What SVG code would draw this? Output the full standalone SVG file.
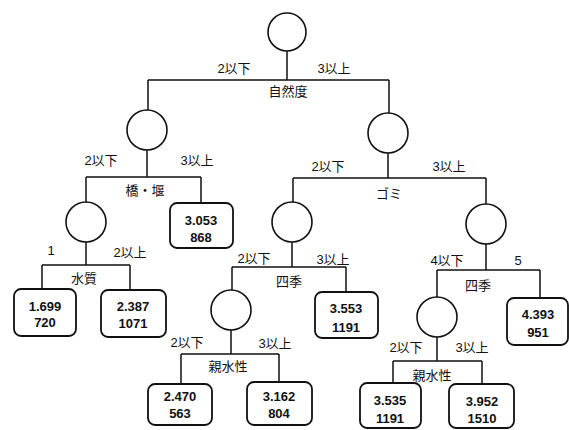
<svg xmlns="http://www.w3.org/2000/svg" width="569" height="430" viewBox="0 0 569 430">
<style>
.c{fill:#fff;stroke:#111;stroke-width:1.6}
.b{fill:#fff;stroke:#111;stroke-width:1.8}
.l{fill:none;stroke:#111;stroke-width:1.5}
text{font-family:"Liberation Sans","Noto Sans CJK JP",sans-serif;font-size:13px;fill:#111;text-anchor:middle;dominant-baseline:central}
.n{font-weight:bold;font-size:13px}
</style>
<rect width="569" height="430" fill="#fff"/>
<g id="connectors">
<path class="l" d="M287 51V80M148 80H389M148 80V110M389 80V113"/>
<path class="l" d="M147 150V177M86 177H201M86 177V202M201 177V203"/>
<path class="l" d="M388 153V178M293 178H486M293 178V202M486 178V204"/>
<path class="l" d="M86 242V265M42 265H130M42 265V289M130 265V290"/>
<path class="l" d="M292 242V267M232 267H346M232 267V290M346 267V292"/>
<path class="l" d="M231 330V354M181 354H279M181 354V384M279 354V382"/>
<path class="l" d="M486 244V270M437 270H540M437 270V297M540 270V298"/>
<path class="l" d="M437 337V361M393 361H482M393 361V383M482 361V384"/>
</g>
<g id="labels">
<text x="234" y="68">2以下</text><text x="334" y="68">3以上</text><text x="288" y="91">自然度</text>
<text x="101" y="160">2以下</text><text x="197" y="160">3以上</text><text x="145" y="190">橋・堰</text>
<text x="328" y="166">2以下</text><text x="449" y="166">3以上</text><text x="389" y="193">ゴミ</text>
<text x="51" y="250">1</text><text x="130" y="252">2以上</text><text x="84" y="278">水質</text>
<text x="254" y="258">2以下</text><text x="333" y="259">3以上</text><text x="289" y="281">四季</text>
<text x="187" y="342">2以下</text><text x="275" y="343">3以上</text><text x="228" y="366">親水性</text>
<text x="447" y="260">4以下</text><text x="518" y="260">5</text><text x="478" y="285">四季</text>
<text x="406" y="347">2以下</text><text x="472" y="347">3以上</text><text x="432" y="375">親水性</text>
</g>
<g id="n0"><circle class="c" cx="287" cy="32" r="19"/></g>
<g id="n1"><circle class="c" cx="147" cy="130" r="20"/></g>
<g id="n2"><circle class="c" cx="388" cy="133" r="20"/></g>
<g id="n3"><circle class="c" cx="86" cy="222" r="20"/></g>
<g id="n4"><rect class="b" x="170" y="203" width="63" height="45" rx="7"/><text class="n" x="201" y="220">3.053</text><text class="n" x="201" y="237">868</text></g>
<g id="n5"><circle class="c" cx="292" cy="222" r="20"/></g>
<g id="n6"><circle class="c" cx="486" cy="224" r="20"/></g>
<g id="n7"><rect class="b" x="14" y="289" width="62" height="47" rx="7"/><text class="n" x="45" y="306">1.699</text><text class="n" x="45" y="322">720</text></g>
<g id="n8"><rect class="b" x="101" y="290" width="65" height="47" rx="7"/><text class="n" x="133" y="306">2.387</text><text class="n" x="133" y="323">1071</text></g>
<g id="n9"><circle class="c" cx="231" cy="310" r="20"/></g>
<g id="n10"><rect class="b" x="315" y="292" width="63" height="46" rx="7"/><text class="n" x="346" y="308">3.553</text><text class="n" x="346" y="327">1191</text></g>
<g id="n11"><rect class="b" x="507" y="298" width="61" height="47" rx="7"/><text class="n" x="538" y="314">4.393</text><text class="n" x="538" y="332">951</text></g>
<g id="n12"><circle class="c" cx="437" cy="317" r="20"/></g>
<g id="n13"><rect class="b" x="148" y="384" width="64" height="41" rx="7"/><text class="n" x="180" y="396">2.470</text><text class="n" x="180" y="413">563</text></g>
<g id="n14"><rect class="b" x="247" y="382" width="65" height="43" rx="7"/><text class="n" x="279" y="396">3.162</text><text class="n" x="279" y="413">804</text></g>
<g id="n15"><rect class="b" x="360" y="383" width="61" height="45" rx="7"/><text class="n" x="390" y="400">3.535</text><text class="n" x="390" y="418">1191</text></g>
<g id="n16"><rect class="b" x="449" y="384" width="65" height="44" rx="7"/><text class="n" x="482" y="401">3.952</text><text class="n" x="482" y="418">1510</text></g>
</svg>
